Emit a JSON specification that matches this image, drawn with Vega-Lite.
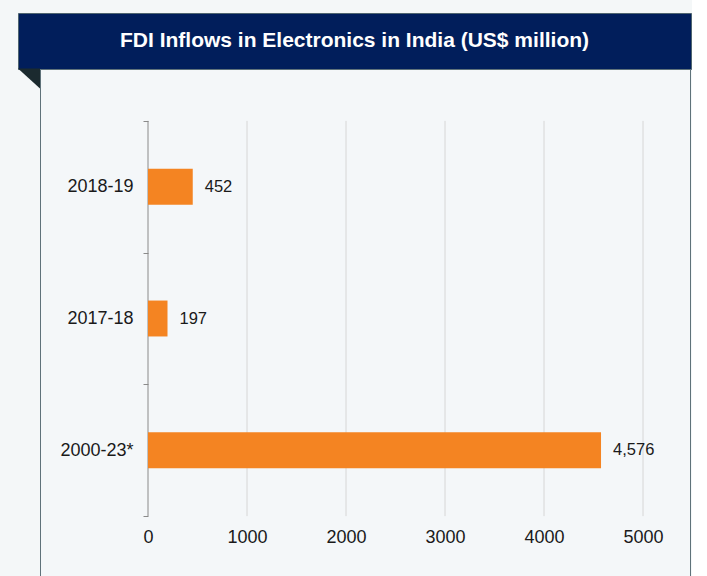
{
  "$schema": "https://vega.github.io/schema/vega-lite/v6.json",
  "background": "#f4f7f8",
  "padding": {"left": 17, "top": 12, "right": 0, "bottom": 0},
  "config": {"view": {"stroke": null}, "font": "Liberation Sans"},
  "spacing": 0,
  "bounds": "flush",
  "vconcat": [
    {
      "width": 673,
      "height": 56,
      "view": {"fill": "#011e5b", "stroke": "#4f6570", "strokeWidth": 1},
      "data": {"values": [{"t": "FDI Inflows in Electronics in India (US$ million)"}]},
      "mark": {"type": "text", "color": "#ffffff", "fontSize": 21, "fontWeight": "bold", "align": "center", "baseline": "middle", "font": "Liberation Sans"},
      "encoding": {"text": {"field": "t", "type": "nominal"}}
    },
    {
      "spacing": 0,
      "bounds": "flush",
      "hconcat": [
        {
          "width": 22,
          "height": 507,
          "data": {"values": [{"k": "fold"}]},
          "mark": {"type": "point", "shape": "M-0.0866,-2L0.0866,-2L0.0866,-1.8425Z", "size": 64516, "filled": true, "opacity": 1, "color": "#1b2a2f", "strokeWidth": 0},
          "encoding": {}
        },
        {
          "width": 650,
          "height": 507,
          "view": {"fill": "#f4f7f9", "stroke": "#5f727a", "strokeWidth": 1},
          "layer": [
            {
              "data": {"values": [{"g": 1000}, {"g": 2000}, {"g": 3000}, {"g": 4000}, {"g": 5000}]},
              "mark": {"type": "rule", "color": "#d6d6d6", "strokeWidth": 1},
              "encoding": {
                "x": {"field": "g", "type": "quantitative"},
                "y": {"datum": "2018-19", "type": "nominal", "bandPosition": 0},
                "y2": {"datum": "2000-23*", "bandPosition": 1}
              }
            },
            {
              "data": {"values": [{"g": 0}]},
              "mark": {"type": "rule", "color": "#8a8a8a", "strokeWidth": 1},
              "encoding": {
                "x": {"field": "g", "type": "quantitative"},
                "y": {"datum": "2018-19", "type": "nominal", "bandPosition": 0},
                "y2": {"datum": "2000-23*", "bandPosition": 1}
              }
            },
            {
              "data": {"values": [
                {"period": "2018-19", "value": 452},
                {"period": "2017-18", "value": 197},
                {"period": "2000-23*", "value": 4576}
              ]},
              "layer": [
                {
                  "mark": {"type": "bar", "color": "#f48422", "height": {"band": 0.2727}},
                  "encoding": {
                    "x": {
                      "field": "value", "type": "quantitative",
                      "scale": {"domain": [-1090.9, 5474.7], "nice": false, "zero": false},
                      "axis": {"values": [0, 1000, 2000, 3000, 4000, 5000], "format": "d", "domain": false, "ticks": false, "tickSize": 0, "grid": false, "labelPadding": 0, "offset": -48, "labelFontSize": 18, "labelColor": "#1a1a1a", "labelFont": "Liberation Sans", "title": null}
                    },
                    "y": {
                      "field": "period", "type": "nominal",
                      "scale": {"domain": ["2018-19", "2017-18", "2000-23*"], "paddingInner": 0, "paddingOuter": 0.4242, "align": 0.4643},
                      "axis": {"orient": "left", "offset": -108, "domain": false, "ticks": true, "tickBand": "extent", "tickSize": 5, "tickColor": "#8a8a8a", "tickWidth": 1, "labelPadding": 10, "labelFontSize": 18, "labelColor": "#1a1a1a", "labelFont": "Liberation Sans", "grid": false, "title": null}
                    }
                  }
                },
                {
                  "mark": {"type": "text", "align": "left", "baseline": "middle", "dx": 12, "fontSize": 16.5, "color": "#1a1a1a", "font": "Liberation Sans"},
                  "encoding": {
                    "x": {"field": "value", "type": "quantitative"},
                    "y": {"field": "period", "type": "nominal"},
                    "text": {"field": "value", "type": "quantitative", "format": ","}
                  }
                }
              ]
            }
          ]
        }
      ]
    }
  ]
}
